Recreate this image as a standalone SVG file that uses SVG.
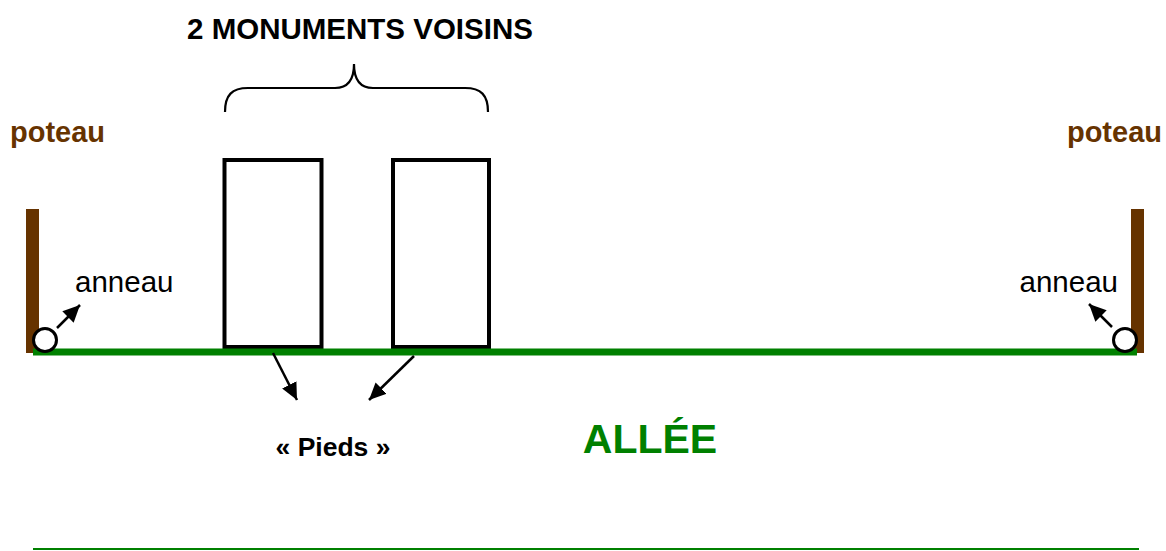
<svg xmlns="http://www.w3.org/2000/svg" width="1166" height="551" viewBox="0 0 1166 551">
<style>
  text { font-family: "Liberation Sans", Arial, sans-serif; }
  .brown { fill: #663300; font-weight: bold; font-size: 29px; }
  .lbl { fill: #000; font-size: 29.5px; }
  .bold { fill: #000; font-weight: bold; }
  .mon { fill: #fff; stroke: #000; stroke-width: 4; }
  .arr { stroke: #000; stroke-width: 2.5; fill: none; marker-end: url(#ah); }
  .ring { fill: #fff; stroke: #000; stroke-width: 3; }
</style>
<defs>
  <marker id="ah" viewBox="0 0 17 16" refX="17" refY="8" markerWidth="17" markerHeight="16" markerUnits="userSpaceOnUse" orient="auto">
    <path d="M0,0 L17,8 L0,16 z" fill="#000"/>
  </marker>
</defs>
<rect width="1166" height="551" fill="#fff"/>

<g id="title">
  <text class="bold" x="360" y="39" font-size="29.5" text-anchor="middle">2 MONUMENTS VOISINS</text>
  <path d="M225,112 C225,95 232,88 248,88 L335,88 C348,88 354,80 354,64 C354,80 360,88 373,88 L465,88 C481,88 488,95 488,112" fill="none" stroke="#000" stroke-width="2.2"/>
</g>

<g id="poteau-left">
  <text class="brown" x="10" y="142">poteau</text>
  <rect x="26" y="209" width="13" height="144" fill="#663300"/>
</g>
<g id="poteau-right">
  <text class="brown" x="1162" y="142" text-anchor="end">poteau</text>
  <rect x="1131" y="209" width="13" height="144" fill="#663300"/>
</g>

<g id="monument-1"><rect class="mon" x="224.5" y="160" width="97" height="187"/></g>
<g id="monument-2"><rect class="mon" x="393" y="160" width="96" height="187"/></g>

<g id="allee-line"><line x1="33" y1="352" x2="1137" y2="352" stroke="#008000" stroke-width="7"/></g>

<g id="anneau-left">
  <circle class="ring" cx="45" cy="340" r="11.5"/>
  <text class="lbl" x="75" y="292">anneau</text>
</g>
<g id="anneau-right">
  <circle class="ring" cx="1125" cy="340" r="11.5"/>
  <text class="lbl" x="1118" y="292" text-anchor="end">anneau</text>
</g>

<g id="pieds"><text class="bold" x="333" y="456" font-size="26.5" text-anchor="middle">« Pieds »</text></g>
<g id="allee"><text x="650" y="453" font-size="41" font-weight="bold" fill="#008000" text-anchor="middle">ALLÉE</text></g>

<g id="bottom-line"><line x1="33" y1="549" x2="1139" y2="549" stroke="#008000" stroke-width="2"/></g>

<g id="connectors">
  <line class="arr" x1="57" y1="328" x2="80" y2="305"/>
  <line class="arr" x1="1112" y1="327" x2="1089" y2="304"/>
  <line class="arr" x1="273" y1="353" x2="297" y2="400"/>
  <line class="arr" x1="414" y1="356" x2="369" y2="400"/>
</g>
</svg>
